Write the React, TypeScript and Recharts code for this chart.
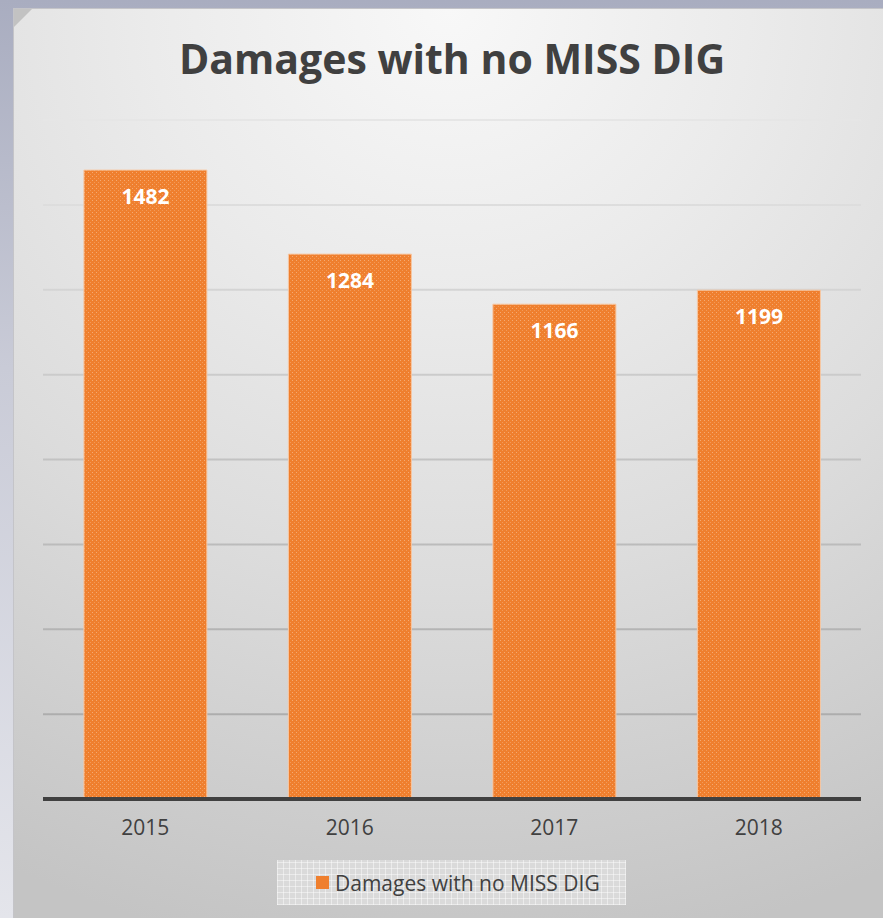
import { BarChart, Bar, XAxis, YAxis, CartesianGrid, LabelList } from 'recharts';

const years = ['2015', '2016', '2017', '2018'];
const damages = [1482, 1284, 1166, 1199];
const yTicks = [0, 200, 400, 600, 800, 1000, 1200, 1400, 1600];

const seriesName = 'Damages with no MISS DIG';
const font = '"Open Sans", "Noto Sans", sans-serif';

const chartData = years.map((year, i) => ({ year, value: damages[i] }));

export default function App() {
  return (
    <div
      style={{
        position: 'absolute',
        left: 0,
        top: 0,
        width: 883,
        height: 918,
        overflow: 'hidden',
        background: 'linear-gradient(to bottom, #a9adc0 0%, #c9cbd7 40%, #e4e5eb 100%)',
      }}
    >
      {/* chart panel */}
      <div
        style={{
          position: 'absolute',
          left: 13,
          top: 8,
          width: 870,
          height: 910,
          borderTop: '1px solid #c4c4c8',
          borderLeft: '1px solid #c4c4c8',
          background:
            'radial-gradient(ellipse 115% 105% at 50% 0%, #f8f8f8 0%, #ebebeb 30%, #dcdcdc 60%, #c4c4c4 100%)',
        }}
      />
      {/* beveled corner */}
      <div
        style={{
          position: 'absolute',
          left: 14,
          top: 9,
          width: 18,
          height: 18,
          background: '#c2c2c2',
          clipPath: 'polygon(0 0, 100% 0, 0 100%)',
        }}
      />
      <div
        style={{
          position: 'absolute',
          left: 0,
          top: 38,
          width: 904,
          textAlign: 'center',
          fontFamily: font,
          fontWeight: 700,
          fontSize: 41,
          lineHeight: '41px',
          color: '#404040',
        }}
      >
        {seriesName}
      </div>

      <div style={{ position: 'absolute', left: 0, top: 0 }}>
        <BarChart
          width={883}
          height={918}
          data={chartData}
          margin={{ top: 120, right: 22, bottom: 79, left: 43 }}
          barCategoryGap="20%"
        >
          <defs>
            <pattern id="barTex" width="4" height="4" patternUnits="userSpaceOnUse">
              <rect width="4" height="4" fill="#ef7f2e" />
              <rect x="0" y="0" width="1" height="1" fill="#f5aa72" />
              <rect x="2" y="2" width="1" height="1" fill="#f39a58" />
            </pattern>
            <linearGradient id="gridFade" gradientUnits="userSpaceOnUse" x1="0" y1="120" x2="0" y2="800">
              <stop offset="0%" stopColor="#e6e6e6" />
              <stop offset="50%" stopColor="#c2c2c2" />
              <stop offset="100%" stopColor="#a6a6a6" />
            </linearGradient>
          </defs>
          <CartesianGrid vertical={false} stroke="url(#gridFade)" strokeWidth={2} />
          <YAxis hide domain={[0, 1600]} ticks={yTicks} />
          <XAxis
            dataKey="year"
            height={40}
            tickLine={false}
            tickSize={0}
            tickMargin={21}
            axisLine={{ stroke: '#404040', strokeWidth: 4 }}
            tick={{ fill: '#404040', fontSize: 21, fontFamily: font }}
          />
          <Bar
            dataKey="value"
            name={seriesName}
            fill="url(#barTex)"
            stroke="#f7c8a4"
            strokeWidth={1}
            isAnimationActive={false}
          >
            <LabelList
              dataKey="value"
              position="insideTop"
              offset={19}
              fill="#ffffff"
              fontSize={21}
              fontWeight={700}
              fontFamily={font}
            />
          </Bar>
        </BarChart>
      </div>

      {/* legend */}
      <div
        style={{
          position: 'absolute',
          left: 277,
          top: 860,
          width: 349,
          height: 45,
          boxSizing: 'border-box',
          paddingLeft: 39,
          display: 'flex',
          alignItems: 'center',
          gap: 6,
          backgroundColor: '#dadada',
          backgroundImage:
            'repeating-linear-gradient(0deg, rgba(255,255,255,0.45) 0 1px, transparent 1px 6px), repeating-linear-gradient(90deg, rgba(255,255,255,0.45) 0 1px, transparent 1px 6px)',
          fontFamily: font,
          fontSize: 21,
          color: '#404040',
        }}
      >
        <span style={{ width: 13, height: 13, background: '#ef7f2e', display: 'inline-block' }} />
        <span>{seriesName}</span>
      </div>
    </div>
  );
}
